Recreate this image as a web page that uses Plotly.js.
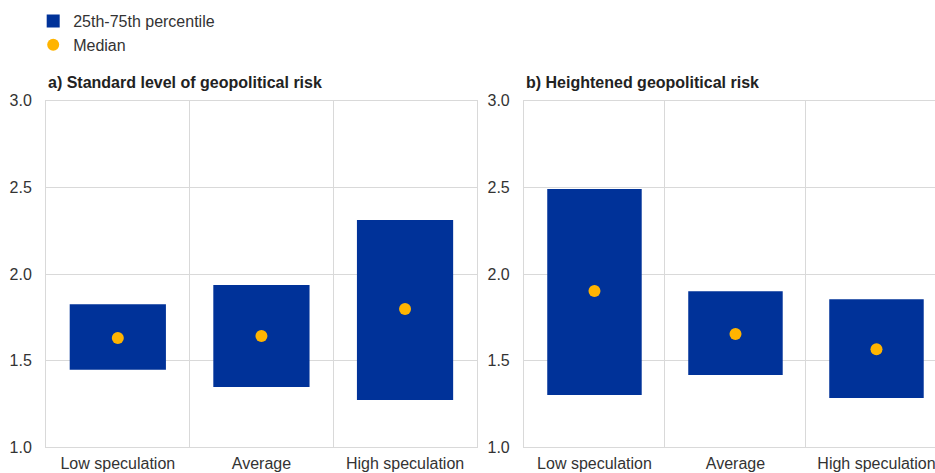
<!DOCTYPE html>
<html>
<head>
<meta charset="utf-8">
<script src="https://cdn.plot.ly/plotly-3.0.1.min.js"></script>
<style>html,body{margin:0;padding:0;background:#fff;}#chart{width:935px;height:473px;}</style>
</head>
<body>
<div id="chart"></div>
<script>
// Data
const categories = ["Low speculation", "Average", "High speculation"];
const standardP25 = [1.448, 1.348, 1.273];
const standardP75 = [1.825, 1.936, 2.312];
const standardMedian = [1.631, 1.642, 1.798];
const heightenedP25 = [1.302, 1.417, 1.285];
const heightenedP75 = [2.490, 1.900, 1.854];
const heightenedMedian = [1.902, 1.654, 1.566];
const yTicks = [1.0, 1.5, 2.0, 2.5, 3.0];
const panelTitles = ["a) Standard level of geopolitical risk", "b) Heightened geopolitical risk"];
const legendNames = ["25th-75th percentile", "Median"];

const BLUE = "#003299";
const YELLOW = "#FFB400";
const FONT = "Liberation Sans, Arial, sans-serif";

function diff(a, b) { return a.map((v, i) => v - b[i]); }

const traces = [
  {type: "bar", x: categories, y: diff(standardP75, standardP25), base: standardP25,
   width: 0.67, marker: {color: BLUE}, xaxis: "x", yaxis: "y", showlegend: false, hoverinfo: "skip"},
  {type: "bar", x: categories, y: diff(heightenedP75, heightenedP25), base: heightenedP25,
   width: 0.67, marker: {color: BLUE}, xaxis: "x2", yaxis: "y2", showlegend: false, hoverinfo: "skip"},
  {type: "scatter", mode: "markers", x: [null], y: [null], name: legendNames[0],
   marker: {symbol: "square", color: BLUE, size: 13}, xaxis: "x", yaxis: "y", showlegend: true},
  {type: "scatter", mode: "markers", x: categories, y: standardMedian, name: legendNames[1],
   marker: {color: YELLOW, size: 12}, xaxis: "x", yaxis: "y", showlegend: true},
  {type: "scatter", mode: "markers", x: categories, y: heightenedMedian, name: legendNames[1],
   marker: {color: YELLOW, size: 12}, xaxis: "x2", yaxis: "y2", showlegend: false}
];

const gridColor = "#d9d9d9";
function xAxis(domain, range, anchor) {
  return {domain: domain, range: range, type: "category", tickson: "boundaries",
    showgrid: true, gridcolor: gridColor, gridwidth: 1,
    showline: true, mirror: true, linecolor: gridColor, linewidth: 1, zeroline: false,
    ticks: "", ticklabelstandoff: 1, tickfont: {family: FONT, size: 16, color: "#333"}, anchor: anchor,
    fixedrange: true};
}
function yAxis(domain, anchor) {
  return {domain: domain, range: [1.0, 3.0], tickvals: yTicks, ticktext: yTicks.map(v => v.toFixed(1)),
    showgrid: true, gridcolor: gridColor, gridwidth: 1, zeroline: false,
    showline: true, mirror: true, linecolor: gridColor, linewidth: 1,
    ticks: "", ticklabelstandoff: 10, tickfont: {family: FONT, size: 16, color: "#333"},
    anchor: anchor, fixedrange: true};
}

const yDom = [0.0543, 0.787];
const layout = {
  width: 935, height: 473,
  margin: {l: 0, r: 0, t: 0, b: 0},
  paper_bgcolor: "#fff", plot_bgcolor: "#fff",
  font: {family: FONT, size: 16, color: "#333"},
  xaxis: xAxis([0.0492, 0.510], [-0.5, 2.5], "y"),
  yaxis: yAxis(yDom, "x"),
  xaxis2: xAxis([0.5604, 1.0], [-0.5, 2.415], "y2"),
  yaxis2: yAxis(yDom, "x2"),
  barmode: "overlay",
  showlegend: true,
  legend: {x: 0.0355, y: 0.9915, xanchor: "left", yanchor: "top", orientation: "v",
    font: {family: FONT, size: 16, color: "#333"}, bgcolor: "rgba(0,0,0,0)",
    tracegroupgap: 0, itemwidth: 30},
  annotations: [
    {text: "<b>" + panelTitles[0] + "</b>", xref: "paper", yref: "paper", x: 0.0492, y: 0.826,
     xanchor: "left", yanchor: "middle", showarrow: false, font: {family: FONT, size: 16, color: "#222"}},
    {text: "<b>" + panelTitles[1] + "</b>", xref: "paper", yref: "paper", x: 0.5604, y: 0.826,
     xanchor: "left", yanchor: "middle", showarrow: false, font: {family: FONT, size: 16, color: "#222"}}
  ]
};

Plotly.newPlot("chart", traces, layout, {staticPlot: true, displayModeBar: false});
</script>
</body>
</html>
